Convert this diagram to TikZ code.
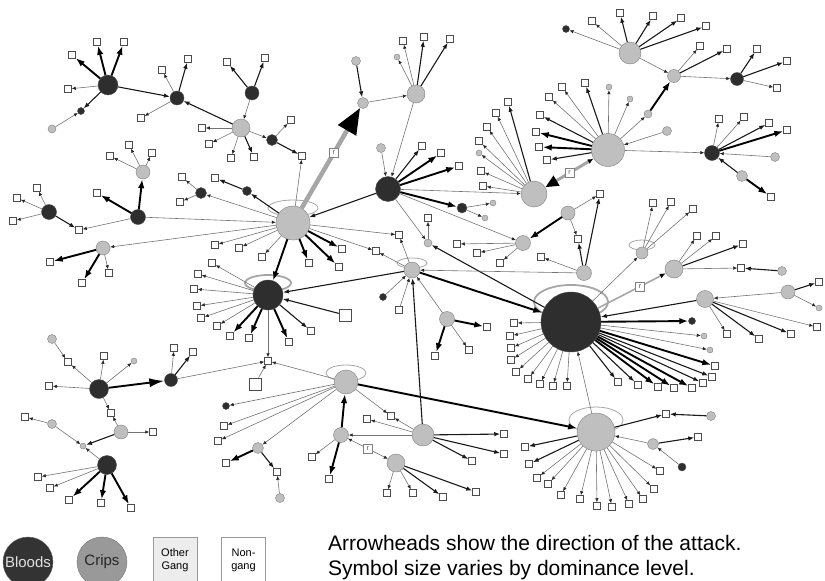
\documentclass[tikz,border=0pt]{standalone}
\usepackage{fontspec}
\setmainfont{Liberation Sans}
\usetikzlibrary{arrows.meta}

\tikzset{
	bl/.style={circle, draw=black!70, fill=black!82, inner sep=0pt, minimum size=#1},
	bl/.default=7,
	cr/.style={circle, draw=black!50, fill=black!25, inner sep=0pt, minimum size=#1},
	cr/.default=7,
	ng/.style={rectangle, draw=black!70, fill=white, line width=0.5pt, inner sep=0pt, minimum size=#1},
	ng/.default=7,
	atk/.style={draw=black!55, line width=0.6pt, -{Latex[length=4pt,width=3.5pt,color=black!85]}},
	atkm/.style={draw=black!90, line width=1.1pt, -{Latex[length=6pt,width=4.5pt]}},
	atkb/.style={draw=black, line width=1.9pt, -{Latex[length=9pt,width=6.5pt]}},
	rline/.style={draw=black!35, line width=#1},
	ring/.style={draw=black!35, line width=0.8pt},
	ringb/.style={draw=black!35, line width=1.8pt},
	rbox/.style={draw=black!50, line width=0.5pt, fill=white, inner sep=1pt, minimum size=9pt, font=\fontsize{7}{7}\selectfont, text=black!70},
}

\begin{document}
\begin{tikzpicture}[x=1pt,y=-1pt]
	\useasboundingbox (0,0) rectangle (825,581);
	
	% rings
	\draw[ring] (293,208) ellipse [x radius=25pt, y radius=8pt];
	\draw[ringb] (268,283) ellipse [x radius=23pt, y radius=8pt];
	\draw[ring] (412,263) ellipse [x radius=15pt, y radius=5pt];
	\draw[ringb] (571,302) ellipse [x radius=37pt, y radius=17pt];
	\draw[ring] (642,245) ellipse [x radius=13pt, y radius=5pt];
	\draw[ring] (346,373) ellipse [x radius=20pt, y radius=8pt];
	\draw[ring] (596,420) ellipse [x radius=27pt, y radius=13pt];
	
	% bloods
	\node[bl=20] (b1) at (108,85) {};
	\node[bl=14] (b2) at (177,98) {};
	\node[bl=14] (b3) at (252,93) {};
	\node[bl=11] (b4) at (272,140) {};
	\node[bl=15] (b5) at (138,217) {};
	\node[bl=15] (b6) at (49,212) {};
	\node[bl=11] (b7) at (201,193) {};
	\node[bl=9] (b8) at (247,191) {};
	\node[bl=30] (b9) at (268,295) {};
	\node[bl=25] (b10) at (388,189) {};
	\node[bl=60] (b11) at (571,322) {};
	\node[bl=13] (b12) at (171,380) {};
	\node[bl=19] (b13) at (99,389) {};
	\node[bl=19] (b14) at (107,465) {};
	\node[bl=13] (b15) at (737,79) {};
	\node[bl=15] (b16) at (712,153) {};
	\node[bl=10] (b17) at (462,208) {};
	\node[bl] (sb1) at (81,111) {};
	\node[bl] (sb2) at (383,297) {};
	\node[bl] (sb3) at (226,406) {};
	\node[bl] (sb4) at (566,29) {};
	\node[bl=8] (sb5) at (682,467) {};
	\node[bl] (sb6) at (692,321) {};
	
	% crips
	\node[cr=18] (c1) at (241,128) {};
	\node[cr=34] (c2) at (293,223) {};
	\node[cr=14] (c3) at (143,172) {};
	\node[cr=14] (c4) at (103,248) {};
	\node[cr=16] (c5) at (412,270) {};
	\node[cr=15] (c6) at (447,319) {};
	\node[cr=15] (c7) at (584,273) {};
	\node[cr=15] (c8) at (523,243) {};
	\node[cr=24] (c9) at (346,382) {};
	\node[cr=38] (c10) at (596,432) {};
	\node[cr=22] (c11) at (423,435) {};
	\node[cr=15] (c12) at (341,435) {};
	\node[cr=18] (c13) at (396,463) {};
	\node[cr=11] (c14) at (258,448) {};
	\node[cr=14] (c15) at (121,432) {};
	\node[cr=9] (c16) at (52,424) {};
	\node[cr=17] (c17) at (705,299) {};
	\node[cr=14] (c18) at (788,292) {};
	\node[cr=12] (c19) at (642,253) {};
	\node[cr=18] (c20) at (674,269) {};
	\node[cr=14] (c21) at (568,213) {};
	\node[cr=11] (c22) at (653,444) {};
	\node[cr=22] (c23) at (630,53) {};
	\node[cr=13] (c24) at (674,76) {};
	\node[cr=8] (c25) at (648,114) {};
	\node[cr=33] (c26) at (608,150) {};
	\node[cr=11] (c27) at (742,176) {};
	\node[cr=26] (c28) at (534,194) {};
	\node[cr=18] (c29) at (416,94) {};
	\node[cr=11] (c30) at (363,103) {};
	\node[cr=9] (c31) at (356,61) {};
	\node[cr=8] (sg1) at (52,129) {};
	\node[cr=6] (sg2) at (134,361) {};
	\node[cr=6] (sg3) at (83,446) {};
	\node[cr=8] (sg4) at (428,243) {};
	\node[cr=9] (sg5) at (280,498) {};
	\node[cr=6] (sg6) at (397,57) {};
	\node[cr=6] (sg7) at (609,87) {};
	\node[cr=6] (sg8) at (630,99) {};
	\node[cr=9] (sg9) at (667,131) {};
	\node[cr=9] (sg10) at (775,157) {};
	\node[cr=6] (sg11) at (479,153) {};
	\node[cr=6] (sg12) at (493,203) {};
	\node[cr=6] (sg13) at (485,218) {};
	\node[cr=6] (sg14) at (704,336) {};
	\node[cr=6] (sg15) at (710,350) {};
	\node[cr=6] (sg16) at (819,308) {};
	\node[cr=9] (sg17) at (782,271) {};
	\node[cr=9] (sg18) at (711,416) {};
	\node[cr=9] (sg19) at (52,339) {};
	\node[cr=9] (sg20) at (381,148) {};
	
	% non-gang shared
	\node[ng] (q1) at (302,156) {};
	\node[ng] (q2) at (79,230) {};
	\node[ng] (q3) at (399,235) {};
	\node[ng] (q4) at (376,251) {};
	\node[ng] (q5) at (428,218) {};
	\node[ng] (q6) at (399,310) {};
	\node[ng=12] (q7) at (345,315) {};
	\node[ng] (q8) at (268,361) {};
	\node[ng=12] (q9) at (255,384) {};
	\node[ng] (q10) at (541,257) {};
	\node[ng] (q11) at (578,239) {};
	\node[ng] (q12) at (600,194) {};
	\node[ng] (q13) at (367,419) {};
	\node[ng] (q14) at (391,416) {};
	\node[ng] (q15) at (277,472) {};
	\node[ng] (q16) at (68,362) {};
	\node[ng] (q17) at (111,413) {};
	\node[ng] (q18) at (741,268) {};
	\node[ng] (q19) at (666,414) {};
	\node[ng] (q20) at (819,282) {};
	
	% fans
	\foreach \x/\y/\s [count=\i] in {97/42/atkb, 124/42/atkb, 72/55/atkb, 68/89/atk}
	{\node[ng] (b1s\i) at (\x,\y) {}; \draw[\s] (b1) -- (b1s\i);}
	\foreach \x/\y/\s [count=\i] in {162/70/atk, 188/59/atkm, 141/118/atk}
	{\node[ng] (b2s\i) at (\x,\y) {}; \draw[\s] (b2) -- (b2s\i);}
	\foreach \x/\y/\s [count=\i] in {202/128/atk, 209/144/atk, 231/158/atk, 254/157/atkm}
	{\node[ng] (c1s\i) at (\x,\y) {}; \draw[\s] (c1) -- (c1s\i);}
	\foreach \x/\y/\s [count=\i] in {227/62/atkm, 265/58/atkm}
	{\node[ng] (b3s\i) at (\x,\y) {}; \draw[\s] (b3) -- (b3s\i);}
	\foreach \x/\y/\s [count=\i] in {291/120/atk}
	{\node[ng] (b4s\i) at (\x,\y) {}; \draw[\s] (b4) -- (b4s\i);}
	\foreach \x/\y/\s [count=\i] in {129/145/atk, 152/153/atk, 110/156/atk}
	{\node[ng] (c3s\i) at (\x,\y) {}; \draw[\s] (c3) -- (c3s\i);}
	\foreach \x/\y/\s [count=\i] in {97/193/atkb}
	{\node[ng] (b5s\i) at (\x,\y) {}; \draw[\s] (b5) -- (b5s\i);}
	\foreach \x/\y/\s [count=\i] in {37/188/atk, 17/198/atk, 13/221/atk}
	{\node[ng] (b6s\i) at (\x,\y) {}; \draw[\s] (b6) -- (b6s\i);}
	\foreach \x/\y/\s [count=\i] in {182/177/atk, 180/202/atk}
	{\node[ng] (b7s\i) at (\x,\y) {}; \draw[\s] (b7) -- (b7s\i);}
	\foreach \x/\y/\s [count=\i] in {215/178/atkm}
	{\node[ng] (b8s\i) at (\x,\y) {}; \draw[\s] (b8) -- (b8s\i);}
	\foreach \x/\y/\s [count=\i] in {50/262/atkb, 82/283/atkb, 109/273/atk}
	{\node[ng] (c4s\i) at (\x,\y) {}; \draw[\s] (c4) -- (c4s\i);}
	\foreach \x/\y/\s [count=\i] in {215/245/atk, 239/248/atk, 262/257/atk, 309/263/atkb, 339/267/atkb, 342/249/atkb}
	{\node[ng] (c2s\i) at (\x,\y) {}; \draw[\s] (c2) -- (c2s\i);}
	\foreach \x/\y/\s [count=\i] in {212/263/atk, 198/274/atk, 194/289/atk, 197/306/atk, 201/318/atk, 217/326/atk, 230/336/atkb, 249/338/atkb, 289/342/atkb, 311/331/atkm}
	{\node[ng] (b9s\i) at (\x,\y) {}; \draw[\s] (b9) -- (b9s\i);}
	\foreach \x/\y/\s [count=\i] in {487/327/atkb, 435/356/atkb, 469/350/atk}
	{\node[ng] (c6s\i) at (\x,\y) {}; \draw[\s] (c6) -- (c6s\i);}
	\foreach \x/\y/\s [count=\i] in {457/244/atk, 477/253/atk, 500/263/atk}
	{\node[ng] (c8s\i) at (\x,\y) {}; \draw[\s] (c8) -- (c8s\i);}
	\foreach \x/\y/\s [count=\i] in {504/434/atkm, 504/454/atkm, 472/461/atkm}
	{\node[ng] (c11s\i) at (\x,\y) {}; \draw[\s] (c11) -- (c11s\i);}
	\foreach \x/\y/\s [count=\i] in {312/457/atk, 329/479/atkb}
	{\node[ng] (c12s\i) at (\x,\y) {}; \draw[\s] (c12) -- (c12s\i);}
	\foreach \x/\y/\s [count=\i] in {387/493/atk, 413/493/atk, 443/497/atkm, 476/492/atkm}
	{\node[ng] (c13s\i) at (\x,\y) {}; \draw[\s] (c13) -- (c13s\i);}
	\foreach \x/\y/\s [count=\i] in {224/426/atk, 218/441/atk}
	{\node[ng] (c9s\i) at (\x,\y) {}; \draw[\s] (c9) -- (c9s\i);}
	\foreach \x/\y/\s [count=\i] in {226/463/atkb}
	{\node[ng] (c14s\i) at (\x,\y) {}; \draw[\s] (c14) -- (c14s\i);}
	\foreach \x/\y/\s [count=\i] in {174/348/atk, 193/352/atkm}
	{\node[ng] (b12s\i) at (\x,\y) {}; \draw[\s] (b12) -- (b12s\i);}
	\foreach \x/\y/\s [count=\i] in {104/356/atk, 49/386/atk}
	{\node[ng] (b13s\i) at (\x,\y) {}; \draw[\s] (b13) -- (b13s\i);}
	\foreach \x/\y/\s [count=\i] in {153/432/atk}
	{\node[ng] (c15s\i) at (\x,\y) {}; \draw[\s] (c15) -- (c15s\i);}
	\foreach \x/\y/\s [count=\i] in {25/417/atk}
	{\node[ng] (c16s\i) at (\x,\y) {}; \draw[\s] (c16) -- (c16s\i);}
	\foreach \x/\y/\s [count=\i] in {38/477/atk, 50/488/atk, 69/500/atkb, 101/503/atkb, 131/508/atkb}
	{\node[ng] (b14s\i) at (\x,\y) {}; \draw[\s] (b14) -- (b14s\i);}
	\foreach \x/\y/\s [count=\i] in {514/323/atk, 510/336/atk, 511/348/atk, 511/360/atk, 516/372/atk, 528/379/atk, 540/384/atk, 553/386/atk, 567/386/atk, 715/366/atkb, 712/377/atkm, 703/383/atkm, 692/388/atkb, 674/388/atkb, 658/387/atkb, 638/385/atkm, 618/382/atkm}
	{\node[ng] (b11s\i) at (\x,\y) {}; \draw[\s] (b11) -- (b11s\i);}
	\foreach \x/\y/\s [count=\i] in {727/334/atk, 759/339/atkm, 791/334/atkm, 817/327/atk}
	{\node[ng] (c17s\i) at (\x,\y) {}; \draw[\s] (c17) -- (c17s\i);}
	\foreach \x/\y/\s [count=\i] in {653/203/atk, 671/202/atk, 693/209/atk}
	{\node[ng] (c19s\i) at (\x,\y) {}; \draw[\s] (c19) -- (c19s\i);}
	\foreach \x/\y/\s [count=\i] in {697/236/atk, 716/236/atk, 743/244/atkm}
	{\node[ng] (c20s\i) at (\x,\y) {}; \draw[\s] (c20) -- (c20s\i);}
	\foreach \x/\y/\s [count=\i] in {525/447/atkm, 529/464/atkm, 537/478/atk, 548/484/atk, 561/495/atk, 580/499/atk, 597/506/atk, 612/507/atk, 629/504/atk, 643/499/atk, 654/489/atk, 660/471/atk}
	{\node[ng] (c10s\i) at (\x,\y) {}; \draw[\s] (c10) -- (c10s\i);}
	\foreach \x/\y/\s [count=\i] in {698/437/atkm}
	{\node[ng] (c22s\i) at (\x,\y) {}; \draw[\s] (c22) -- (c22s\i);}
	\foreach \x/\y/\s [count=\i] in {592/21/atk, 620/13/atkm, 653/16/atkm, 681/18/atkm, 706/26/atkm}
	{\node[ng] (c23s\i) at (\x,\y) {}; \draw[\s] (c23) -- (c23s\i);}
	\foreach \x/\y/\s [count=\i] in {700/46/atk, 727/49/atkm}
	{\node[ng] (c24s\i) at (\x,\y) {}; \draw[\s] (c24) -- (c24s\i);}
	\foreach \x/\y/\s [count=\i] in {757/49/atkm, 787/61/atkm, 777/88/atk}
	{\node[ng] (b15s\i) at (\x,\y) {}; \draw[\s] (b15) -- (b15s\i);}
	\foreach \x/\y/\s [count=\i] in {562/87/atk, 585/83/atkm, 549/97/atk, 540/115/atkm, 536/132/atkb, 539/147/atkb, 547/160/atkm}
	{\node[ng] (c26s\i) at (\x,\y) {}; \draw[\s] (c26) -- (c26s\i);}
	\foreach \x/\y/\s [count=\i] in {719/119/atk, 744/117/atk, 769/123/atkm, 787/130/atkb}
	{\node[ng] (b16s\i) at (\x,\y) {}; \draw[\s] (b16) -- (b16s\i);}
	\foreach \x/\y/\s [count=\i] in {771/197/atkb}
	{\node[ng] (c27s\i) at (\x,\y) {}; \draw[\s] (c27) -- (c27s\i);}
	\foreach \x/\y/\s [count=\i] in {508/102/atkm, 496/113/atk, 487/127/atk, 479/141/atk, 481/171/atk, 483/186/atk}
	{\node[ng] (c28s\i) at (\x,\y) {}; \draw[\s] (c28) -- (c28s\i);}
	\foreach \x/\y/\s [count=\i] in {403/41/atk, 424/37/atkm, 450/39/atkm}
	{\node[ng] (c29s\i) at (\x,\y) {}; \draw[\s] (c29) -- (c29s\i);}
	\foreach \x/\y/\s [count=\i] in {422/146/atkm, 441/153/atkb, 459/166/atkb}
	{\node[ng] (b10s\i) at (\x,\y) {}; \draw[\s] (b10) -- (b10s\i);}
	
	% attacks between groups
	\draw[atkm] (b1) -- (sb1);
	\draw[atk] (sg1) -- (sb1);
	\draw[atkm] (b1) -- (b2);
	\draw[atkm] (c1) -- (b2);
	\draw[atk] (b3) -- (c1);
	\draw[atk] (c1) -- (b4);
	\draw[atkm] (b4) -- (q1);
	\draw[atk] (c2) -- (q1);
	\draw[atkb] (b5) -- (c3);
	\draw[atkm] (b6) -- (q2);
	\draw[atk] (b5) -- (q2);
	\draw[atk] (b5) -- (c2);
	\draw[atk] (c2) -- (b7);
	\draw[atkm] (c2) -- (b8);
	\draw[atk] (c2) -- (c4);
	\draw[atk] (c2) -- (q3);
	\draw[atk] (c5) -- (q3);
	\draw[atk] (c2) -- (q4);
	\draw[atk] (c5) -- (q4);
	\draw[atkb] (c2) -- (b9);
	\draw[atkm] (b10) -- (c2);
	\draw[atkm] (q7) -- (b9);
	\draw[atkm] (c5) -- (b9);
	\draw[atk] (sb2) -- (c5);
	\draw[atk] (q6) -- (c5);
	\draw[atkm] (b11) -- (sg4);
	\draw[atk] (b10) -- (sg4);
	\draw[atk] (sg4) -- (q5);
	\draw[atk] (c6) -- (c5);
	\draw[atkb] (c5) -- (b11);
	\draw[atk] (c7) -- (c5);
	\draw[atk] (b10) -- (c8);
	\draw[atkb] (c21) -- (c8);
	\draw[atk] (c7) -- (q10);
	\draw[atk] (c21) -- (q11);
	\draw[atkm] (c7) -- (q11);
	\draw[atkm] (c7) -- (q12);
	\draw[atk] (c21) -- (q12);
	\draw[atkb] (c9) -- (c10);
	\draw[atkm] (c11) -- (c5);
	\draw[atk] (c11) -- (q13);
	\draw[atk] (c11) -- (q14);
	\draw[atk] (c9) -- (q14);
	\draw[atkb] (c12) -- (c9);
	\draw[atk] (c11) -- (c12);
	\draw[atk] (c9) -- (sb3);
	\draw[atk] (c9) -- (c14);
	\draw[atkm] (c14) -- (q15);
	\draw[atk] (sg5) -- (q15);
	\draw[atk] (b9) -- (q8);
	\draw[atk] (b12) -- (q8);
	\draw[atk] (c9) -- (q8);
	\draw[atk] (q9) -- (q8);
	\draw[atkb, -{Latex[length=15pt,width=9pt]}] (b13) -- (b12);
	\draw[atk] (b13) -- (sg2);
	\draw[atk] (b13) -- (q16);
	\draw[atk] (sg19) -- (q16);
	\draw[atk] (b13) -- (q17);
	\draw[atk] (c15) -- (q17);
	\draw[atkm] (c15) -- (sg3);
	\draw[atk] (c16) -- (sg3);
	\draw[atk] (b14) -- (sg3);
	\draw[atkb] (b11) -- (sb6);
	\draw[atk] (b11) -- (sg14);
	\draw[atk] (b11) -- (sg15);
	\draw[atkm] (c17) -- (b11);
	\draw[atk] (c18) -- (c17);
	\draw[atk] (c18) -- (sg16);
	\draw[atkm] (c18) -- (q20);
	\draw[atk] (b11) -- (c19);
	\draw[atk] (c20) -- (q18);
	\draw[atkm] (sg17) -- (q18);
	\draw[atk] (c10) -- (b11);
	\draw[atkm] (c10) -- (q19);
	\draw[atkm] (sg18) -- (q19);
	\draw[atk] (c22) -- (c10);
	\draw[atk] (sb5) -- (c22);
	\draw[atk] (c23) -- (sb4);
	\draw[atk] (c23) -- (c24);
	\draw[atk] (c24) -- (b15);
	\draw[atkb] (c25) -- (c24);
	\draw[atk] (c26) -- (c25);
	\draw[atk] (c26) -- (sg7);
	\draw[atk] (c26) -- (sg8);
	\draw[atk] (sg9) -- (c26);
	\draw[atk] (c26) -- (b16);
	\draw[atk] (sg10) -- (b16);
	\draw[atkm] (c27) -- (b16);
	\draw[atk] (c28) -- (sg11);
	\draw[atk] (b10) -- (c28);
	\draw[atkb] (b10) -- (b17);
	\draw[atk] (b17) -- (sg12);
	\draw[atk] (b17) -- (sg13);
	\draw[atk] (c29) -- (sg6);
	\draw[atk] (c30) -- (c29);
	\draw[atkm] (c31) -- (c30);
	\draw[atk] (c29) -- (b10);
	\draw[atk] (sg20) -- (b10);
	
	% retaliations
	\draw[rline=4.5pt, -{Triangle[length=26pt,width=20pt,color=black]}] (c2) -- node[rbox, pos=0.55] (r1) {r} (c30);
	\draw[rline=3pt, {Latex[length=6pt,width=5pt,color=black]}-{Triangle[length=13pt,width=11pt,color=black]}] (c26) -- node[rbox] (r2) {r} (c28);
	\draw[rline=1.6pt, -{Latex[length=6pt,width=5pt,color=black]}] (b11) -- node[rbox, pos=0.62] (r3) {r} (c20);
	\draw[atk, {Latex[length=4pt,width=3.5pt,color=black!85]}-{Latex[length=4pt,width=3.5pt,color=black!85]}] (c12) -- node[rbox] (r4) {r} (c13);
	
	% legend
	\node[circle, fill=black!80, draw=black!60, minimum size=50pt, inner sep=0pt, text=black!12, font=\fontsize{15}{15}\selectfont] (bloods) at (28,562) {Bloods};
	\node[circle, fill=black!40, draw=black!55, minimum size=50pt, inner sep=0pt, text=black!85, font=\fontsize{15}{15}\selectfont] (crips) at (102,562) {Crips};
	\node[rectangle, fill=black!7, draw=black!40, minimum width=44pt, minimum height=46pt, anchor=north, align=center, inner sep=0pt, font=\fontsize{11}{13}\selectfont] (other) at (175,537) {Other\\Gang};
	\node[rectangle, fill=white, draw=black!40, minimum width=44pt, minimum height=46pt, anchor=north, align=center, inner sep=0pt, font=\fontsize{11}{13}\selectfont] (nongang) at (243.5,537) {Non-\\gang};
	\node[anchor=base west, inner sep=0pt, font=\fontsize{21}{26}\selectfont] (note1) at (328,550) {Arrowheads show the direction of the attack.};
	\node[anchor=base west, inner sep=0pt, font=\fontsize{21}{26}\selectfont] (note2) at (328,575) {Symbol size varies by dominance level.};
	
\end{tikzpicture}
\end{document}
